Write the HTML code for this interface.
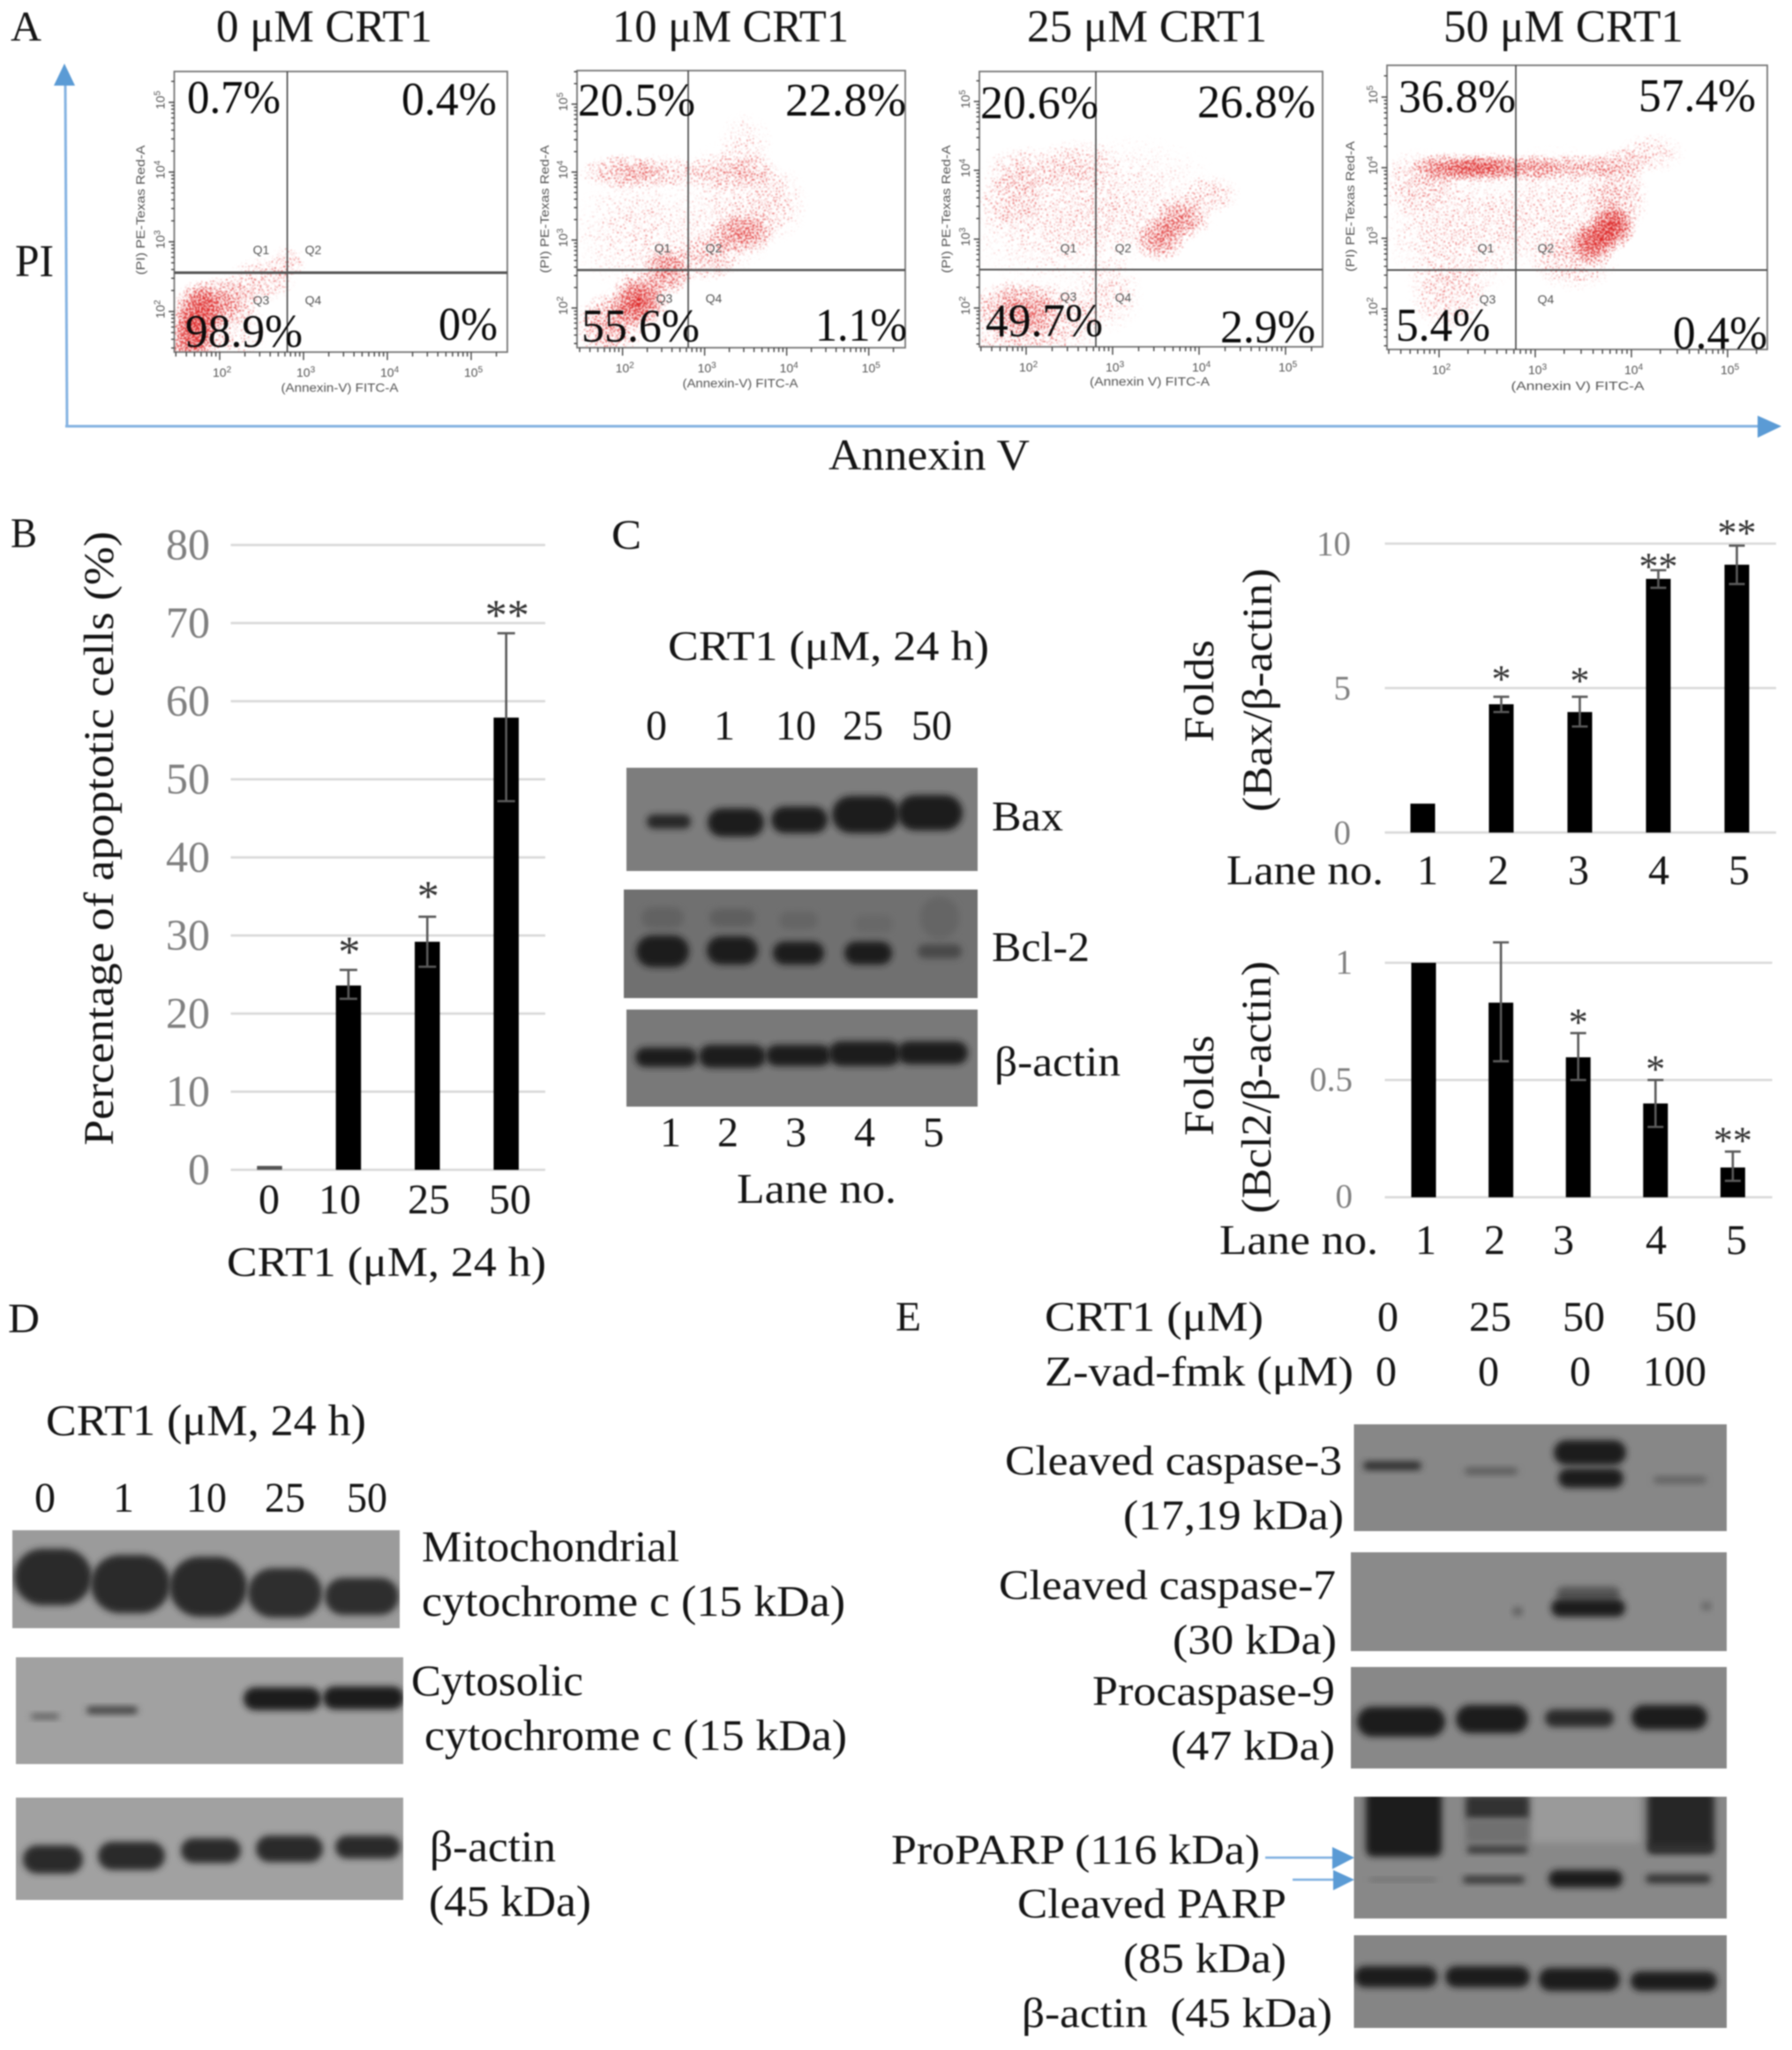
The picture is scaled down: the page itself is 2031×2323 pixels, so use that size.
<!DOCTYPE html>
<html lang="en"><head><meta charset="utf-8"><title>CRT1 apoptosis figure</title>
<style>
html,body{margin:0;padding:0;background:#fff;width:2031px;height:2323px;overflow:hidden}
#figure{display:block;filter:blur(0.8px)}
.t{font-family:"Liberation Serif","DejaVu Serif",serif;font-size:48px;fill:#151515}
.a{font-size:52px}
.e{font-size:50px}
.d{font-size:48px;text-anchor:middle}
.p{font-size:53px;fill:#0c0c0c}
.s{font-family:"Liberation Sans","DejaVu Sans",sans-serif;font-size:14px;fill:#555}
.q{font-family:"Liberation Sans","DejaVu Sans",sans-serif;font-size:14px;fill:#555;text-anchor:middle}
</style></head><body>
<svg id="figure" xmlns="http://www.w3.org/2000/svg" width="2031" height="2323" viewBox="0 0 2031 2323">
<defs>
<radialGradient id="clusterFade"><stop offset="0" stop-color="#000" stop-opacity="1"/><stop offset=".55" stop-color="#000" stop-opacity=".62"/><stop offset="1" stop-color="#000" stop-opacity="0"/></radialGradient>
<filter id="speckle" filterUnits="userSpaceOnUse" x="190" y="60" width="1830" height="350" color-interpolation-filters="sRGB">
<feTurbulence type="fractalNoise" baseFrequency="0.6" numOctaves="1" seed="7" result="noise"/>
<feComposite in="SourceAlpha" in2="noise" operator="arithmetic" k1="0" k2="0.35" k3="1" k4="-0.68" result="sum"/>
<feComponentTransfer in="sum" result="thr"><feFuncA type="linear" slope="9" intercept="0"/></feComponentTransfer>
<feComponentTransfer in="SourceAlpha" result="gate"><feFuncA type="linear" slope="7" intercept="0"/></feComponentTransfer>
<feComposite in="thr" in2="gate" operator="in" result="mask"/>
<feFlood flood-color="#dd2323"/><feComposite in2="mask" operator="in"/><feGaussianBlur stdDeviation="0.4"/>
</filter>
<filter id="bandBlur" x="-30%" y="-60%" width="160%" height="220%"><feGaussianBlur stdDeviation="3.6"/></filter>
</defs>
<rect width="2031" height="2323" fill="#fff"/>

<g id="flow-layer"></g>

<g>
<text class="t" x="12" y="46" textLength="35" lengthAdjust="spacingAndGlyphs">A</text>
<text class="t a" x="245" y="47" textLength="245" lengthAdjust="spacingAndGlyphs">0 μM CRT1</text>
<text class="t a" x="694" y="47" textLength="268" lengthAdjust="spacingAndGlyphs">10 μM CRT1</text>
<text class="t a" x="1164" y="47" textLength="272" lengthAdjust="spacingAndGlyphs">25 μM CRT1</text>
<text class="t a" x="1636" y="47" textLength="272" lengthAdjust="spacingAndGlyphs">50 μM CRT1</text>
<text class="t a" x="17" y="313" textLength="44" lengthAdjust="spacingAndGlyphs">PI</text>
<text class="t e" x="939" y="532" textLength="228" lengthAdjust="spacingAndGlyphs">Annexin V</text>
<line x1="76" y1="484" x2="74" y2="95" stroke="#85b3e2" stroke-width="3"/>
<polygon points="73,72 61,97 85,97" fill="#5b9bd5"/>
<line x1="74" y1="483" x2="1995" y2="483" stroke="#85b3e2" stroke-width="3"/>
<polygon points="2019,483 1992,471 1992,496" fill="#5b9bd5"/>
<text class="t p" x="212" y="128" textLength="106" lengthAdjust="spacingAndGlyphs">0.7%</text>
<text class="t p" x="455" y="130" textLength="108" lengthAdjust="spacingAndGlyphs">0.4%</text>
<text class="t p" x="210" y="393" textLength="133" lengthAdjust="spacingAndGlyphs">98.9%</text>
<text class="t p" x="497" y="385" textLength="67" lengthAdjust="spacingAndGlyphs">0%</text>
<text class="t p" x="655" y="131" textLength="133" lengthAdjust="spacingAndGlyphs">20.5%</text>
<text class="t p" x="890" y="131" textLength="137" lengthAdjust="spacingAndGlyphs">22.8%</text>
<text class="t p" x="659" y="387" textLength="134" lengthAdjust="spacingAndGlyphs">55.6%</text>
<text class="t p" x="924" y="386" textLength="104" lengthAdjust="spacingAndGlyphs">1.1%</text>
<text class="t p" x="1111" y="134" textLength="134" lengthAdjust="spacingAndGlyphs">20.6%</text>
<text class="t p" x="1357" y="133" textLength="134" lengthAdjust="spacingAndGlyphs">26.8%</text>
<text class="t p" x="1117" y="381" textLength="133" lengthAdjust="spacingAndGlyphs">49.7%</text>
<text class="t p" x="1383" y="388" textLength="108" lengthAdjust="spacingAndGlyphs">2.9%</text>
<text class="t p" x="1585" y="127" textLength="133" lengthAdjust="spacingAndGlyphs">36.8%</text>
<text class="t p" x="1857" y="126" textLength="133" lengthAdjust="spacingAndGlyphs">57.4%</text>
<text class="t p" x="1582" y="386" textLength="107" lengthAdjust="spacingAndGlyphs">5.4%</text>
<text class="t p" x="1896" y="395" textLength="107" lengthAdjust="spacingAndGlyphs">0.4%</text>
</g>

<g id="blot-layer"></g>
<g id="chart-b"></g>
<g id="chart-bax"></g>
<g id="chart-bcl"></g>

<g>
<text class="t" x="12" y="620" textLength="30" lengthAdjust="spacingAndGlyphs">B</text>
<text class="t" text-anchor="middle" transform="translate(128,950) rotate(-90)" textLength="696" lengthAdjust="spacingAndGlyphs">Percentage of apoptotic cells (%)</text>
<text class="t d" x="305" y="1375">0</text>
<text class="t d" x="385" y="1375">10</text>
<text class="t d" x="486" y="1375">25</text>
<text class="t d" x="578" y="1375">50</text>
<text class="t" x="257" y="1446" textLength="362" lengthAdjust="spacingAndGlyphs">CRT1 (μM, 24 h)</text>
</g>

<g>
<text class="t" x="693" y="622" textLength="34" lengthAdjust="spacingAndGlyphs">C</text>
<text class="t" x="757" y="748" textLength="364" lengthAdjust="spacingAndGlyphs">CRT1 (μM, 24 h)</text>
<text class="t d" x="744" y="838">0</text>
<text class="t d" x="821" y="838">1</text>
<text class="t d" x="902" y="838" textLength="46" lengthAdjust="spacingAndGlyphs">10</text>
<text class="t d" x="978" y="838" textLength="46" lengthAdjust="spacingAndGlyphs">25</text>
<text class="t d" x="1056" y="838" textLength="46" lengthAdjust="spacingAndGlyphs">50</text>
<text class="t" x="1124" y="941" textLength="81" lengthAdjust="spacingAndGlyphs">Bax</text>
<text class="t" x="1124" y="1089" textLength="111" lengthAdjust="spacingAndGlyphs">Bcl-2</text>
<text class="t" x="1127" y="1219" textLength="143" lengthAdjust="spacingAndGlyphs">β-actin</text>
<text class="t d" x="760" y="1299">1</text>
<text class="t d" x="825" y="1299">2</text>
<text class="t d" x="902" y="1299">3</text>
<text class="t d" x="980" y="1299">4</text>
<text class="t d" x="1058" y="1299">5</text>
<text class="t" x="835" y="1363" textLength="181" lengthAdjust="spacingAndGlyphs">Lane no.</text>

<text class="t" text-anchor="middle" transform="translate(1375,783) rotate(-90)" textLength="116" lengthAdjust="spacingAndGlyphs">Folds</text>
<text class="t" text-anchor="middle" transform="translate(1441,782) rotate(-90)" textLength="276" lengthAdjust="spacingAndGlyphs">(Bax/β-actin)</text>
<text class="t" x="1390" y="1002" textLength="178" lengthAdjust="spacingAndGlyphs">Lane no.</text>
<text class="t d" x="1618" y="1002">1</text>
<text class="t d" x="1698" y="1002">2</text>
<text class="t d" x="1789" y="1002">3</text>
<text class="t d" x="1880" y="1002">4</text>
<text class="t d" x="1971" y="1002">5</text>

<text class="t" text-anchor="middle" transform="translate(1375,1230) rotate(-90)" textLength="114" lengthAdjust="spacingAndGlyphs">Folds</text>
<text class="t" text-anchor="middle" transform="translate(1440,1232) rotate(-90)" textLength="286" lengthAdjust="spacingAndGlyphs">(Bcl2/β-actin)</text>
<text class="t" x="1382" y="1421" textLength="180" lengthAdjust="spacingAndGlyphs">Lane no.</text>
<text class="t d" x="1616" y="1421">1</text>
<text class="t d" x="1694" y="1421">2</text>
<text class="t d" x="1772" y="1421">3</text>
<text class="t d" x="1877" y="1421">4</text>
<text class="t d" x="1968" y="1421">5</text>
</g>

<g>
<text class="t" x="9" y="1510" textLength="36" lengthAdjust="spacingAndGlyphs">D</text>
<text class="t e" x="52" y="1626" textLength="363" lengthAdjust="spacingAndGlyphs">CRT1 (μM, 24 h)</text>
<text class="t d" x="51" y="1713">0</text>
<text class="t d" x="140" y="1713">1</text>
<text class="t d" x="234" y="1713" textLength="46" lengthAdjust="spacingAndGlyphs">10</text>
<text class="t d" x="323" y="1713" textLength="46" lengthAdjust="spacingAndGlyphs">25</text>
<text class="t d" x="416" y="1713" textLength="46" lengthAdjust="spacingAndGlyphs">50</text>
<text class="t e" x="478" y="1769" textLength="292" lengthAdjust="spacingAndGlyphs">Mitochondrial</text>
<text class="t e" x="478" y="1831" textLength="480" lengthAdjust="spacingAndGlyphs">cytochrome c (15 kDa)</text>
<text class="t e" x="466" y="1921" textLength="195" lengthAdjust="spacingAndGlyphs">Cytosolic</text>
<text class="t e" x="481" y="1983" textLength="479" lengthAdjust="spacingAndGlyphs">cytochrome c (15 kDa)</text>
<text class="t e" x="487" y="2109" textLength="143" lengthAdjust="spacingAndGlyphs">β-actin</text>
<text class="t e" x="486" y="2171" textLength="184" lengthAdjust="spacingAndGlyphs">(45 kDa)</text>
</g>

<g>
<text class="t" x="1015" y="1508" textLength="29" lengthAdjust="spacingAndGlyphs">E</text>
<text class="t" x="1184" y="1508" textLength="248" lengthAdjust="spacingAndGlyphs">CRT1 (μM)</text>
<text class="t" x="1184" y="1570" textLength="350" lengthAdjust="spacingAndGlyphs">Z-vad-fmk (μM)</text>
<text class="t d" x="1573" y="1508">0</text>
<text class="t d" x="1689" y="1508">25</text>
<text class="t d" x="1795" y="1508">50</text>
<text class="t d" x="1899" y="1508">50</text>
<text class="t d" x="1571" y="1570">0</text>
<text class="t d" x="1687" y="1570">0</text>
<text class="t d" x="1791" y="1570">0</text>
<text class="t d" x="1898" y="1570">100</text>
<text class="t" x="1139" y="1671" textLength="382" lengthAdjust="spacingAndGlyphs">Cleaved caspase-3</text>
<text class="t" x="1273" y="1733" textLength="250" lengthAdjust="spacingAndGlyphs">(17,19 kDa)</text>
<text class="t" x="1132" y="1812" textLength="382" lengthAdjust="spacingAndGlyphs">Cleaved caspase-7</text>
<text class="t" x="1329" y="1874" textLength="186" lengthAdjust="spacingAndGlyphs">(30 kDa)</text>
<text class="t" x="1238" y="1932" textLength="275" lengthAdjust="spacingAndGlyphs">Procaspase-9</text>
<text class="t" x="1327" y="1994" textLength="186" lengthAdjust="spacingAndGlyphs">(47 kDa)</text>
<text class="t" x="1010" y="2112" textLength="418" lengthAdjust="spacingAndGlyphs">ProPARP (116 kDa)</text>
<text class="t" x="1153" y="2173" textLength="305" lengthAdjust="spacingAndGlyphs">Cleaved PARP</text>
<text class="t" x="1273" y="2235" textLength="185" lengthAdjust="spacingAndGlyphs">(85 kDa)</text>
<text class="t" x="1158" y="2297" textLength="352" lengthAdjust="spacingAndGlyphs">β-actin&#160; (45 kDa)</text>
<line x1="1434" y1="2105" x2="1512" y2="2105" stroke="#7fb0e0" stroke-width="2.5"/>
<polygon points="1535,2105 1510,2093 1510,2118" fill="#5b9bd5"/>
<line x1="1465" y1="2130" x2="1513" y2="2130" stroke="#7fb0e0" stroke-width="2.5"/>
<polygon points="1535,2130 1511,2119 1511,2142" fill="#5b9bd5"/>
</g>
</svg>

<script>
// ---------- Panel B data ----------
const apoptosisDoses = ['0', '10', '25', '50'];
const apoptosisPercent = [0.5, 23.6, 29.2, 57.9];
const apoptosisErrorHigh = [0.5, 25.6, 32.4, 68.7];
const apoptosisErrorLow = [0.5, 21.9, 26.0, 47.2];
const apoptosisStars = ['', '*', '*', '**'];
const apoptosisTicks = [0, 10, 20, 30, 40, 50, 60, 70, 80];

// ---------- Panel C Bax data ----------
const baxLanes = ['1', '2', '3', '4', '5'];
const baxFolds = [1.0, 4.44, 4.17, 8.78, 9.27];
const baxErrorHigh = [1.0, 4.7, 4.7, 9.08, 9.93];
const baxErrorLow = [1.0, 4.17, 3.67, 8.47, 8.6];
const baxStars = ['', '*', '*', '**', '**'];
const baxTicks = [0, 5, 10];

// ---------- Panel C Bcl-2 data ----------
const bclLanes = ['1', '2', '3', '4', '5'];
const bclFolds = [1.0, 0.83, 0.597, 0.4, 0.127];
const bclErrorHigh = [1.0, 1.087, 0.70, 0.5, 0.195];
const bclErrorLow = [1.0, 0.58, 0.5, 0.30, 0.07];
const bclStars = ['', '', '*', '*', '**'];
const bclTicks = [0, 0.5, 1];

// ---------- Panel A density regions (log10 fluorescence) ----------
const flow0LogAnnexin = [1.75, 1.65, 2.05, 2.5, 2.8, 1.9];
const flow0LogPI = [1.95, 1.55, 2.15, 2.45, 2.7, 1.7];
const flow0SpreadAnnexin = [0.18, 0.18, 0.25, 0.25, 0.14, 0.4];
const flow0SpreadPI = [0.3, 0.3, 0.22, 0.2, 0.15, 0.45];
const flow0Density = [0.85, 0.7, 0.55, 0.34, 0.28, 0.25];

const flow10LogAnnexin = [2.2, 1.85, 2.55, 2.0, 2.5, 3.2, 3.6, 3.45, 3.05, 3.85, 3.5, 2.2, 3.3];
const flow10LogPI = [2.1, 1.75, 2.55, 4.0, 4.0, 4.0, 4.0, 3.1, 2.75, 3.55, 4.4, 3.1, 3.5];
const flow10SpreadAnnexin = [0.22, 0.25, 0.2, 0.32, 0.3, 0.28, 0.18, 0.25, 0.24, 0.25, 0.2, 0.5, 0.4];
const flow10SpreadPI = [0.25, 0.3, 0.22, 0.16, 0.16, 0.18, 0.16, 0.2, 0.22, 0.35, 0.3, 0.55, 0.6];
const flow10Density = [0.9, 0.55, 0.65, 0.45, 0.32, 0.3, 0.26, 0.62, 0.38, 0.22, 0.16, 0.18, 0.16];

const flow25LogAnnexin = [1.9, 2.4, 1.9, 2.95, 2.0, 2.6, 1.85, 2.3, 3.2, 3.55, 3.8, 4.15];
const flow25LogPI = [2.0, 1.85, 1.55, 2.2, 4.0, 4.1, 3.6, 3.2, 3.6, 3.0, 3.3, 3.65];
const flow25SpreadAnnexin = [0.32, 0.32, 0.35, 0.25, 0.3, 0.3, 0.25, 0.65, 0.65, 0.18, 0.2, 0.2];
const flow25SpreadPI = [0.25, 0.32, 0.25, 0.35, 0.22, 0.22, 0.3, 0.55, 0.55, 0.2, 0.2, 0.18];
const flow25Density = [0.6, 0.3, 0.3, 0.2, 0.26, 0.26, 0.24, 0.17, 0.15, 0.65, 0.58, 0.24];

const flow50LogAnnexin = [2.1, 2.5, 2.95, 3.4, 3.85, 1.8, 4.2, 3.8, 3.6, 3.85, 3.4, 2.2, 3.2, 2.1];
const flow50LogPI = [4.0, 4.0, 4.0, 4.0, 4.05, 3.8, 4.2, 3.15, 2.95, 3.55, 2.7, 3.1, 3.4, 2.2];
const flow50SpreadAnnexin = [0.25, 0.25, 0.2, 0.28, 0.22, 0.25, 0.22, 0.15, 0.15, 0.2, 0.28, 0.5, 0.42, 0.26];
const flow50SpreadPI = [0.13, 0.13, 0.12, 0.12, 0.14, 0.28, 0.18, 0.2, 0.2, 0.32, 0.28, 0.55, 0.55, 0.32];
const flow50Density = [0.68, 0.82, 0.55, 0.42, 0.38, 0.3, 0.22, 0.9, 0.8, 0.4, 0.3, 0.22, 0.18, 0.28];

const decadeLabels = ['2', '3', '4', '5'];

const SVGNS = 'http://www.w3.org/2000/svg';
function make(tag, attrs, parent) {
  const el = document.createElementNS(SVGNS, tag);
  for (const k in attrs) el.setAttribute(k, attrs[k]);
  parent.appendChild(el);
  return el;
}

// ---------- Bar charts ----------
function drawBars(root, prefix, cfg, cats, vals, hi, lo, stars, ticks) {
  const y = v => cfg.y0 - v * cfg.unit;
  const x = i => cfg.x0 + i * cfg.step;
  ticks.forEach(t => {
    const grid = make('line', {x1: cfg.gridL, x2: cfg.gridR, y1: y(t), y2: y(t), stroke: '#d9d9d9', 'stroke-width': 2.6}, root);
    
    
    const lab = make('text', {x: cfg.tickX, y: y(t) + cfg.tickDy, 'text-anchor': 'end', 'font-size': cfg.tickSize, fill: '#808080', 'font-family': '"Liberation Serif",serif'}, root);
    
    
    lab.textContent = String(t);
  });
  cats.forEach((c, i) => {
    const bar = make('rect', {x: x(i) - cfg.w / 2, y: y(vals[i]), width: cfg.w, height: cfg.y0 - y(vals[i]), fill: i === 0 && vals[i] < 1 ? '#555' : '#000'}, root);
    
    
    if (hi[i] !== lo[i]) {
      const err = make('path', {d: 'M' + (x(i) - cfg.cap) + ' ' + y(hi[i]) + 'H' + (x(i) + cfg.cap) + 'M' + x(i) + ' ' + y(hi[i]) + 'V' + y(lo[i]) + 'M' + (x(i) - cfg.cap) + ' ' + y(lo[i]) + 'H' + (x(i) + cfg.cap), stroke: '#5a5a5a', 'stroke-width': 2.6, fill: 'none'}, root);
      
      
    }
    if (stars[i]) {
      const nudge = cfg.starNudge ? cfg.starNudge[i] : 0;
      const st = make('text', {x: x(i) + cfg.starDx, y: y(hi[i]) - cfg.starGap + nudge + cfg.starSize * 0.46, 'text-anchor': 'middle', 'font-size': cfg.starSize, fill: '#333', 'font-family': '"Liberation Serif",serif'}, root);
      
      
      st.textContent = stars[i];
    }
  });
}
drawBars(document.getElementById('chart-b'), 'apoptosis',
  {y0: 1325.6, unit: 8.85, x0: 305.5, step: 89.4, w: 28.5, cap: 10, gridL: 261.5, gridR: 618, tickX: 238, tickDy: 16, tickSize: 50, starGap: 27, starSize: 50, starDx: 1, starNudge: [0, 0, -3, 0]},
  apoptosisDoses, apoptosisPercent, apoptosisErrorHigh, apoptosisErrorLow, apoptosisStars, apoptosisTicks);
drawBars(document.getElementById('chart-bax'), 'bax',
  {y0: 943.4, unit: 32.74, x0: 1612.5, step: 89, w: 28, cap: 9, gridL: 1569.5, gridR: 2013, tickX: 1531, tickDy: 13, tickSize: 39, starGap: 20, starSize: 44, starDx: 0, starNudge: [0, -6, -4, 10, 0]},
  baxLanes, baxFolds, baxErrorHigh, baxErrorLow, baxStars, baxTicks);
drawBars(document.getElementById('chart-bcl'), 'bcl2',
  {y0: 1356.7, unit: 265.7, x0: 1613.5, step: 87.6, w: 28, cap: 9, gridL: 1569.5, gridR: 2008.6, tickX: 1533, tickDy: 12, tickSize: 39, starGap: 18, starSize: 44, starDx: 0},
  bclLanes, bclFolds, bclErrorHigh, bclErrorLow, bclStars, bclTicks);

// ---------- Flow cytometry ----------
const flowLayout = [
  {id: '0um', L: 197.5, R: 575, T: 81, B: 399, vx: 325.6, hy: 309, x2: 249, xd: 95, y2: 353, yd: 79, hw: 3,
   xTitle: '(Annexin-V) FITC-A', xtx: 385, xty: 444, xtl: 133, ytx: 164, yty: 238, ytl: 147,
   q: [[296, 288], [355, 288], [296, 345], [355, 345]]},
  {id: '10um', L: 654, R: 1026, T: 80, B: 394, vx: 780, hy: 306, x2: 705.6, xd: 93, y2: 349, yd: 77, hw: 2.5,
   xTitle: '(Annexin-V) FITC-A', xtx: 839, xty: 439, xtl: 131, ytx: 622, yty: 237, ytl: 145,
   q: [[751, 286], [809, 286], [753, 343], [809, 343]]},
  {id: '25um', L: 1110, R: 1499, T: 81, B: 393, vx: 1242, hy: 305.5, x2: 1163, xd: 98, y2: 349, yd: 78, hw: 2,
   xTitle: '(Annexin V) FITC-A', xtx: 1303, xty: 437, xtl: 136, ytx: 1077, yty: 237, ytl: 145,
   q: [[1211, 286], [1273, 286], [1211, 341], [1273, 342]]},
  {id: '50um', L: 1572, R: 2003, T: 74, B: 396, vx: 1718, hy: 306, x2: 1631, xd: 109, y2: 350, yd: 80, hw: 2,
   xTitle: '(Annexin V) FITC-A', xtx: 1788, xty: 442, xtl: 151, ytx: 1535, yty: 234, ytl: 148,
   q: [[1684, 286], [1752, 286], [1686, 344], [1752, 344]]}
];
const flowSeries = [
  [flow0LogAnnexin, flow0LogPI, flow0SpreadAnnexin, flow0SpreadPI, flow0Density],
  [flow10LogAnnexin, flow10LogPI, flow10SpreadAnnexin, flow10SpreadPI, flow10Density],
  [flow25LogAnnexin, flow25LogPI, flow25SpreadAnnexin, flow25SpreadPI, flow25Density],
  [flow50LogAnnexin, flow50LogPI, flow50SpreadAnnexin, flow50SpreadPI, flow50Density]
];
const flowRoot = document.getElementById('flow-layer');
const defs = document.querySelector('defs');
flowLayout.forEach((p, n) => {
  const x = v => p.x2 + (v - 2) * p.xd;
  const y = v => p.y2 - (v - 2) * p.yd;
  const g = make('g', {}, flowRoot);
  
  
  const clip = make('clipPath', {id: 'clip-' + p.id}, defs);
  make('rect', {x: p.L, y: p.T, width: p.R - p.L, height: p.B - p.T}, clip);
  const clipG = make('g', {'clip-path': 'url(#clip-' + p.id + ')'}, g);
  const dots = make('g', {filter: 'url(#speckle)'}, clipG);
  
  
  const s = flowSeries[n];
  s[0].forEach((lx, i) => {
    const e = make('ellipse', {cx: x(lx), cy: y(s[1][i]), rx: 1.75 * s[2][i] * p.xd, ry: 1.75 * s[3][i] * p.yd, fill: 'url(#clusterFade)', opacity: s[4][i]}, dots);
    
    
  });
  const box = make('rect', {x: p.L, y: p.T, width: p.R - p.L, height: p.B - p.T, fill: 'none', stroke: '#777', 'stroke-width': 1.8}, g);
  
  
  const gateV = make('line', {x1: p.vx, x2: p.vx, y1: p.T, y2: p.B, stroke: '#444', 'stroke-width': 1.6}, g);
  
  
  const gateH = make('line', {x1: p.L, x2: p.R, y1: p.hy, y2: p.hy, stroke: '#555', 'stroke-width': p.hw}, g);
  
  
  let tick = '';
  for (let d = 1; d < 6; d++) for (let m = 1; m < 10; m++) {
    const lv = d + Math.log10(m), len = m === 1 ? 9 : 5;
    const tx = x(lv), ty = y(lv);
    if (tx > p.L && tx < p.R) tick += 'M' + tx + ' ' + p.B + 'v' + len;
    if (ty > p.T && ty < p.B) tick += 'M' + p.L + ' ' + ty + 'h' + (-len * 0.7);
  }
  const ticks = make('path', {d: tick, stroke: '#444', 'stroke-width': 1.4, fill: 'none'}, g);
  
  
  decadeLabels.forEach(dl => {
    const v = +dl;
    const xl = make('text', {x: x(v) - 8, y: p.B + 28, class: 's'}, g);
    
    
    xl.textContent = '10';
    make('tspan', {dy: -5, 'font-size': 10}, xl).textContent = dl;
    const yl = make('text', {class: 's', transform: 'translate(' + (p.L - 11) + ',' + (y(v) + 8) + ') rotate(-90)'}, g);
    
    
    yl.textContent = '10';
    make('tspan', {dy: -5, 'font-size': 10}, yl).textContent = dl;
  });
  const xt = make('text', {x: p.xtx, y: p.xty, class: 's', 'text-anchor': 'middle', textLength: p.xtl, lengthAdjust: 'spacingAndGlyphs'}, g);
  
  
  xt.textContent = p.xTitle;
  const yt = make('text', {class: 's', 'text-anchor': 'middle', transform: 'translate(' + p.ytx + ',' + p.yty + ') rotate(-90)', textLength: p.ytl, lengthAdjust: 'spacingAndGlyphs'}, g);
  
  
  yt.textContent = '(PI) PE-Texas Red-A';
  p.q.forEach((pos, i) => {
    const ql = make('text', {x: pos[0], y: pos[1], class: 'q'}, g);
    
    
    ql.textContent = 'Q' + (i + 1);
  });
});

// ---------- Western blots: background box plus bands [cx, cy, rx, ry, colour, corner] ----------
const D = '#1f1f1f';
const blots = [
  {name: 'bax-blot', x: 710, y: 870, w: 398, h: 117, bg: '#7d7d7d', bands: [[758,931,25,8,'#262626'],[834,932,32,16,D],[906,929,32,15,D],[981,923,38,21,D],[1054,921,37,20,D]]},
  {name: 'bcl2-blot', x: 707, y: 1008, w: 401, h: 123, bg: '#707070', bands: [[751,1040,24,12,'#626262'],[830,1040,26,10,'#5e5e5e'],[905,1043,22,10,'#656565'],[990,1047,22,10,'#686868'],[1065,1040,22,24,'#656565'],[751,1078,30,18,D],[830,1077,29,16,D],[905,1080,29,13,D],[984,1080,27,13,D],[1065,1078,25,8,'#4a4a4a']]},
  {name: 'bax-actin-blot', x: 710, y: 1144, w: 398, h: 110, bg: '#797979', bands: [[755,1198,35,11,D],[830,1197,38,13,D],[905,1196,37,12,D],[980,1194,41,14,D],[1057,1193,40,13,D]]},
  {name: 'mitochondrial-cytochrome-blot', x: 14, y: 1734, w: 439, h: 111, bg: '#9b9b9b', bands: [[60,1787,44,32,'#2a2a2a'],[148,1795,45,33,'#2a2a2a'],[236,1798,44,34,'#2a2a2a'],[323,1805,42,28,'#2e2e2e'],[410,1809,42,21,'#2e2e2e']]},
  {name: 'cytosolic-cytochrome-blot', x: 18, y: 1878, w: 439, h: 121, bg: '#a1a1a1', bands: [[51,1945,16,3,'#5a5a5a'],[127,1938,29,4,'#3e3e3e'],[320,1925,44,13,D],[412,1924,46,13,D]]},
  {name: 'cytochrome-actin-blot', x: 18, y: 2037, w: 439, h: 116, bg: '#a1a1a1', bands: [[60,2107,34,16,'#2a2a2a'],[149,2103,38,16,'#2a2a2a'],[239,2097,34,14,'#2a2a2a'],[328,2095,38,15,'#2a2a2a'],[417,2093,37,13,'#2a2a2a']]},
  {name: 'cleaved-caspase-3-blot', x: 1534.5, y: 1614, w: 422.5, h: 121, bg: '#878787', bands: [[1578,1661,33,5,'#2e2e2e'],[1690,1667,30,4,'#5c5c5c'],[1802,1646,41,14,D],[1803,1675,37,11,D],[1904,1677,30,4,'#626262']]},
  {name: 'cleaved-caspase-7-blot', x: 1531, y: 1759, w: 426, h: 112, bg: '#8a8a8a', bands: [[1800,1806,36,8,'#555'],[1800,1822,42,10,D],[1720,1826,6,5,'#5e5e5e'],[1934,1820,6,5,'#686868']]},
  {name: 'procaspase-9-blot', x: 1531, y: 1889, w: 426, h: 115, bg: '#888', bands: [[1588,1951,50,17,D],[1691,1948,41,16,D],[1790,1947,39,10,'#2c2c2c'],[1892,1946,43,14,D]]},
  {name: 'parp-blot', x: 1534.5, y: 2036, w: 422.5, h: 138, bg: '#888', bands: [[1797,2060,62,28,'#9a9a9a',4],[1591,2066,43,38,D,8],[1697,2048,36,14,'#303030',4],[1697,2075,36,14,'#707070',2],[1697,2096,34,4,'#333',2],[1905,2065,38,34,'#282828',6],[1905,2095,36,5,'#333',2],[1590,2130,38,2,'#6a6a6a'],[1693,2130,35,4,'#333'],[1797,2129,42,10,D],[1902,2129,37,5,'#333']]},
  {name: 'parp-actin-blot', x: 1534.5, y: 2193, w: 422.5, h: 105, bg: '#858585', bands: [[1582,2240,47,12,D],[1686,2240,48,12,D],[1790,2243,46,13,D],[1897,2245,49,11,D]]}
];
const blotRoot = document.getElementById('blot-layer');
blots.forEach((b, n) => {
  const clip = make('clipPath', {id: 'blot-clip-' + n}, defs);
  make('rect', {x: b.x, y: b.y, width: b.w, height: b.h}, clip);
  const g = make('g', {'clip-path': 'url(#blot-clip-' + n + ')'}, blotRoot);
  
  
  const bg = make('rect', {x: b.x, y: b.y, width: b.w, height: b.h, fill: b.bg}, g);
  
  
  b.bands.forEach(v => {
    const r = v[5] !== undefined ? v[5] : Math.min(v[3], v[2]);
    const band = make('rect', {x: v[0] - v[2], y: v[1] - v[3], width: 2 * v[2], height: 2 * v[3], rx: r, ry: r, fill: v[4], filter: 'url(#bandBlur)'}, g);
    
    
  });
});
</script>
</body></html>
